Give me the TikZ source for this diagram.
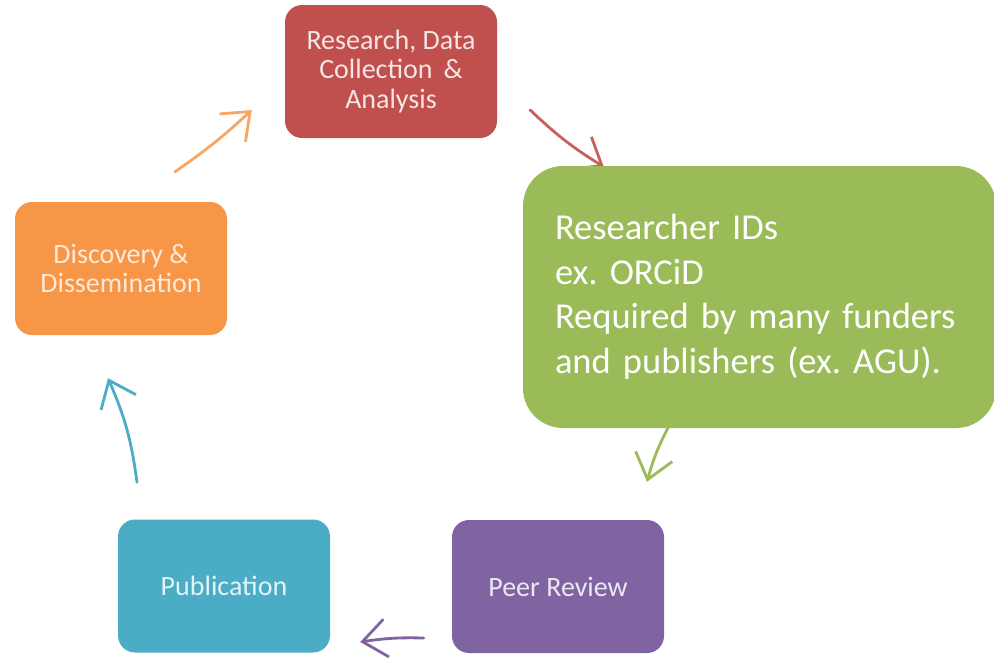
\documentclass[tikz,border=0pt]{standalone}
\usepackage{fontspec}
\setmainfont{Carlito}
\frenchspacing
\usetikzlibrary{arrows.meta,calc}
\pgfdeclarelayer{background}
\pgfsetlayers{background,main}
\definecolor{cred}{HTML}{C0504D}
\definecolor{corange}{HTML}{F79646}
\definecolor{cteal}{HTML}{4BACC6}
\definecolor{cpurple}{HTML}{8064A2}
\definecolor{cgreen}{HTML}{9BBB59}
\begin{document}
\begin{tikzpicture}[x=1pt,y=-1pt,
  stage/.style={draw=none, rounded corners=17pt, minimum width=212pt, minimum height=133pt,
    align=center, inner sep=0pt, font=\fontsize{28}{29.5}\selectfont},
  arr/.style={line width=2.8pt, line cap=round,
    -{Straight Barb[length=24pt,width=38pt,line width=2.8pt]}}
]
\useasboundingbox (0,0) rectangle (994,657);

\node[stage, fill=cred, text=white!85!cred] (red) at (391,71.5) {Research, Data\\Collection \,\&\\Analysis};
\node[stage, fill=corange, text=white!80!corange] (orange) at (121,268.5) {Discovery \&\\Dissemination};
\node[stage, fill=cteal, text=white!85!cteal] (teal) at (224,586) {Publication};
\node[stage, fill=cpurple, text=white!85!cpurple] (purple) at (558,586.5) {Peer Review};
\node[draw=none, fill=cgreen, rounded corners=40pt, minimum width=473pt, minimum height=262pt,
  text width=409pt, inner xsep=32pt, inner ysep=0pt, align=left, text=white,
  font=\fontsize{36.5}{44.5}\selectfont] (green) at (759.5,297)
  {Researcher IDs\\ex. ORCiD\\Required by many funders\\and publishers (ex. AGU).};

\begin{pgfonlayer}{background}
\fill[white] (0,0) rectangle (994,657);
\draw[arr, draw=corange!85!white] ($(orange.north)+(54,-30)$) to[bend right=4] ($(red.west)+(-33,38.5)$);
\draw[arr, draw=cred!90!white] ($(red.east)+(33,38.5)$) to[bend right=6] ($(green.north west)+(81,1)$);
\draw[arr, draw=cgreen] ($(green.south west)+(146,-2)$) to[bend right=6] ($(purple.north)+(89,-38)$);
\draw[arr, draw=cpurple] ($(purple.west)+(-28,51.5)$) to[bend right=5] ($(teal.east)+(30,56)$);
\draw[arr, draw=cteal] ($(teal.north)+(-87,-37)$) to[bend right=8] ($(orange.south)+(-13,43)$);
\end{pgfonlayer}
\end{tikzpicture}
\end{document}
